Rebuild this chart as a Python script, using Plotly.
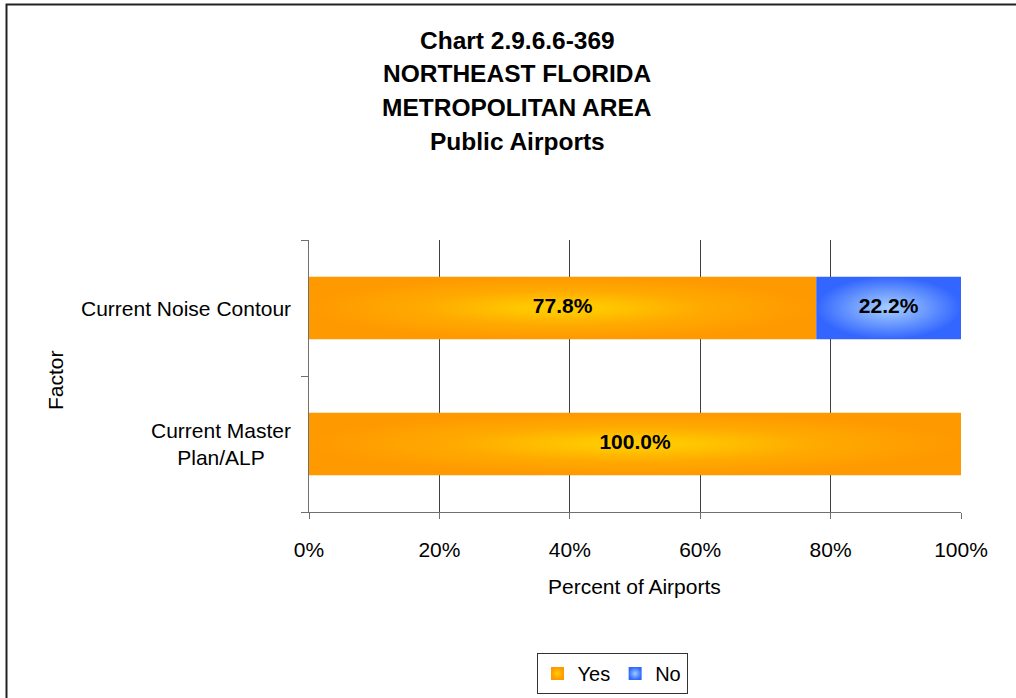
import plotly.graph_objects as go

# Data
categories = ["Current Master<br>Plan/ALP", "Current Noise Contour"]
yes_pct = [100.0, 77.8]
no_pct = [0.0, 22.2]
x_ticks = [0, 20, 40, 60, 80, 100]
title_lines = ["Chart 2.9.6.6-369", "NORTHEAST FLORIDA", "METROPOLITAN AREA", "Public Airports"]

FONT = "Liberation Sans, Arial, sans-serif"
W, H = 1016, 698
L, R, T, B = 309, 55, 240, 186
PW, PH = W - L - R, H - T - B
BAR_W = 0.46

series = [
    ("Yes", yes_pct, "#FF9900", "#FFCC00",
     [[0, "#FFCC00"], [0.15, "#FFC800"], [0.55, "#FFAA00"], [1, "#FF9900"]]),
    ("No", no_pct, "#3366FF", "#99CCFF",
     [[0, "#A6D0FF"], [0.5, "#6E9CFF"], [1, "#3366FF"]]),
]

fig = go.Figure()

# Stacked bar segments drawn as filled polygons so they can carry a gradient
base = [0.0] * len(categories)
label_x, label_y, label_t = [], [], []
for name, vals, edge, center, cscale in series:
    for i, v in enumerate(vals):
        if v <= 0:
            continue
        x0, x1 = base[i], base[i] + v
        y0, y1 = i - BAR_W / 2, i + BAR_W / 2
        fig.add_trace(go.Scatter(
            x=[x0, x1, x1, x0, x0], y=[y0, y0, y1, y1, y0],
            mode="lines", fill="toself", line=dict(width=0, color=edge),
            fillgradient=dict(type="radial", colorscale=cscale),
            hoverinfo="skip", showlegend=False,
        ))
        label_x.append((x0 + x1) / 2)
        label_y.append(i)
        label_t.append(f"{v:.1f}%")
        base[i] = x1

# Value labels
fig.add_trace(go.Scatter(
    x=label_x, y=label_y, text=label_t, mode="text",
    textfont=dict(family=FONT, size=21, color="black", weight="bold"),
    hoverinfo="skip", showlegend=False,
))

# Legend entries
for name, vals, edge, center, cscale in series:
    fig.add_trace(go.Scatter(
        x=[None], y=[None], mode="markers", name=name,
        marker=dict(symbol="square", size=13, color=edge,
                    gradient=dict(type="radial", color=center),
                    line=dict(width=0)),
    ))

def px_x(p):
    return (p - L) / PW

def px_y(p):
    return (T + PH - p) / PH

annotations = []
# Category labels
for i, c in enumerate(categories):
    annotations.append(dict(
        text=c, x=0, xref="paper", xanchor="right", xshift=-16,
        y=i, yref="y", yanchor="middle", align="center", showarrow=False,
        font=dict(family=FONT, size=21, color="black"),
    ))
# Title lines
for k, line in enumerate(title_lines):
    annotations.append(dict(
        text=line, x=px_x(517), xref="paper", xanchor="center",
        y=px_y(40 + k * 33.7), yref="paper", yanchor="middle", showarrow=False,
        font=dict(family=FONT, size=24.5, color="black", weight="bold"),
    ))
# Axis titles
annotations.append(dict(
    text="Percent of Airports", x=px_x(634), xref="paper", xanchor="center",
    y=px_y(586), yref="paper", yanchor="middle", showarrow=False,
    font=dict(family=FONT, size=21, color="black"),
))
annotations.append(dict(
    text="Factor", x=px_x(55), xref="paper", xanchor="center",
    y=px_y(380), yref="paper", yanchor="middle", showarrow=False, textangle=-90,
    font=dict(family=FONT, size=21, color="black"),
))

fig.update_layout(
    width=W, height=H,
    margin=dict(l=L, r=R, t=T, b=B, autoexpand=False),
    paper_bgcolor="white", plot_bgcolor="white",
    font=dict(family=FONT, size=20, color="black"),
    annotations=annotations,
    showlegend=True,
    legend=dict(
        orientation="h", x=px_x(612), xanchor="center", y=px_y(653), yanchor="top",
        bordercolor="#333333", borderwidth=1, bgcolor="white",
        font=dict(family=FONT, size=20, color="black"), itemwidth=30,
        tracegroupgap=0,
    ),
    xaxis=dict(
        range=[0, 100], tickmode="array", tickvals=x_ticks,
        ticktext=[f"{t}%" for t in x_ticks], automargin=False,
        showgrid=True, gridcolor="#404040", gridwidth=1,
        showline=True, linecolor="#707070", linewidth=1,
        ticks="outside", ticklen=6, tickcolor="#707070",
        ticklabelstandoff=13, zeroline=False, fixedrange=True,
        tickfont=dict(family=FONT, size=21, color="black"),
    ),
    yaxis=dict(
        range=[-0.5, 1.5], tickmode="array", tickvals=[0, 1], ticktext=["", ""],
        ticks="", showgrid=False, zeroline=False, automargin=False,
        showline=True, linecolor="#707070", linewidth=1, fixedrange=True,
        minor=dict(tickmode="array", tickvals=[-0.5, 0.5, 1.5], ticks="outside",
                   ticklen=7, tickcolor="#707070", showgrid=False),
    ),
    shapes=[dict(
        type="rect", xref="paper", yref="paper",
        x0=px_x(6.5), x1=px_x(1030), y0=px_y(4.5), y1=px_y(720),
        line=dict(color="#222222", width=2), fillcolor="rgba(0,0,0,0)", layer="above",
    )],
)

fig.write_html("out.html")
